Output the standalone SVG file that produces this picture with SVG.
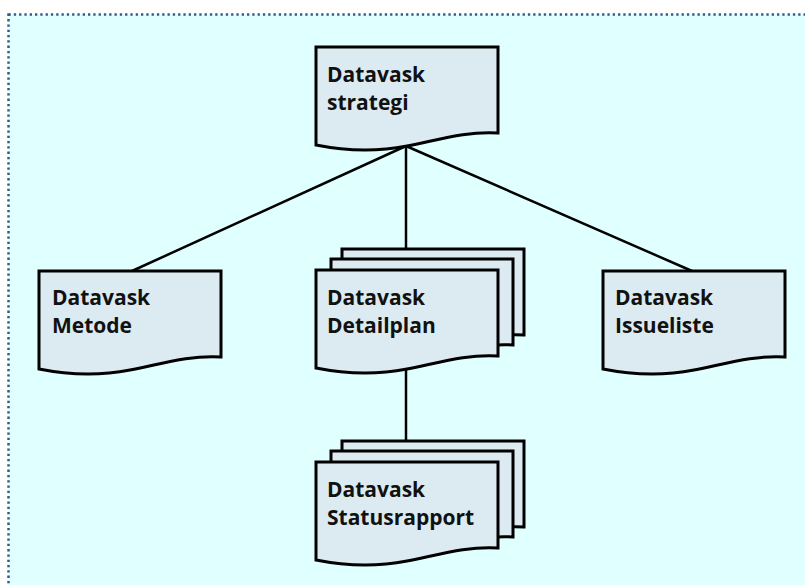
<svg xmlns="http://www.w3.org/2000/svg" xmlns:xlink="http://www.w3.org/1999/xlink" width="805" height="585" viewBox="0 0 805 585">
  <style>
    .doc { fill: #DCEBF2; stroke: #000000; stroke-width: 3; stroke-linejoin: miter; }
    .lbl { font-family: "Open Sans", "Liberation Sans", sans-serif; font-weight: 700; font-size: 21px; fill: #111111; }
    .conn { stroke: #000000; stroke-width: 2.5; fill: none; }
  </style>
  <defs>
    <!-- document shape: flat top, wavy bottom -->
    <path id="docShape" d="M0,0 H182 V86 C150,84 122,93 91,99 C60,105 30,104 0,98 Z"/>
  </defs>

  <!-- page background -->
  <rect x="0" y="0" width="805" height="585" fill="#FFFFFF"/>
  <rect x="8.5" y="14.5" width="810" height="590" fill="#E0FFFF" stroke="#345A86" stroke-width="2.5" stroke-dasharray="2.3 3"/>

  <g id="connectors">
    <line class="conn" x1="406" y1="146" x2="132" y2="271"/>
    <line class="conn" x1="406" y1="146" x2="692" y2="271"/>
    <line class="conn" x1="406" y1="146" x2="406" y2="250"/>
    <line class="conn" x1="406" y1="366" x2="406" y2="442"/>
  </g>

  <g id="node-strategi">
    <use xlink:href="#docShape" class="doc" transform="translate(316,47)"/>
    <text class="lbl" x="327" y="82">Datavask</text>
    <text class="lbl" x="327" y="110">strategi</text>
  </g>

  <g id="node-metode">
    <use xlink:href="#docShape" class="doc" transform="translate(39,271)"/>
    <text class="lbl" x="52" y="305">Datavask</text>
    <text class="lbl" x="52" y="333">Metode</text>
  </g>

  <g id="node-detailplan">
    <use xlink:href="#docShape" class="doc" transform="translate(342,249)"/>
    <use xlink:href="#docShape" class="doc" transform="translate(331,259)"/>
    <use xlink:href="#docShape" class="doc" transform="translate(316,270)"/>
    <text class="lbl" x="327" y="305">Datavask</text>
    <text class="lbl" x="327" y="333">Detailplan</text>
  </g>

  <g id="node-issueliste">
    <use xlink:href="#docShape" class="doc" transform="translate(603,271)"/>
    <text class="lbl" x="615" y="305">Datavask</text>
    <text class="lbl" x="615" y="333">Issueliste</text>
  </g>

  <g id="node-statusrapport">
    <use xlink:href="#docShape" class="doc" transform="translate(342,441)"/>
    <use xlink:href="#docShape" class="doc" transform="translate(331,451)"/>
    <use xlink:href="#docShape" class="doc" transform="translate(316,462)"/>
    <text class="lbl" x="327" y="497">Datavask</text>
    <text class="lbl" x="327" y="525">Statusrapport</text>
  </g>
</svg>
